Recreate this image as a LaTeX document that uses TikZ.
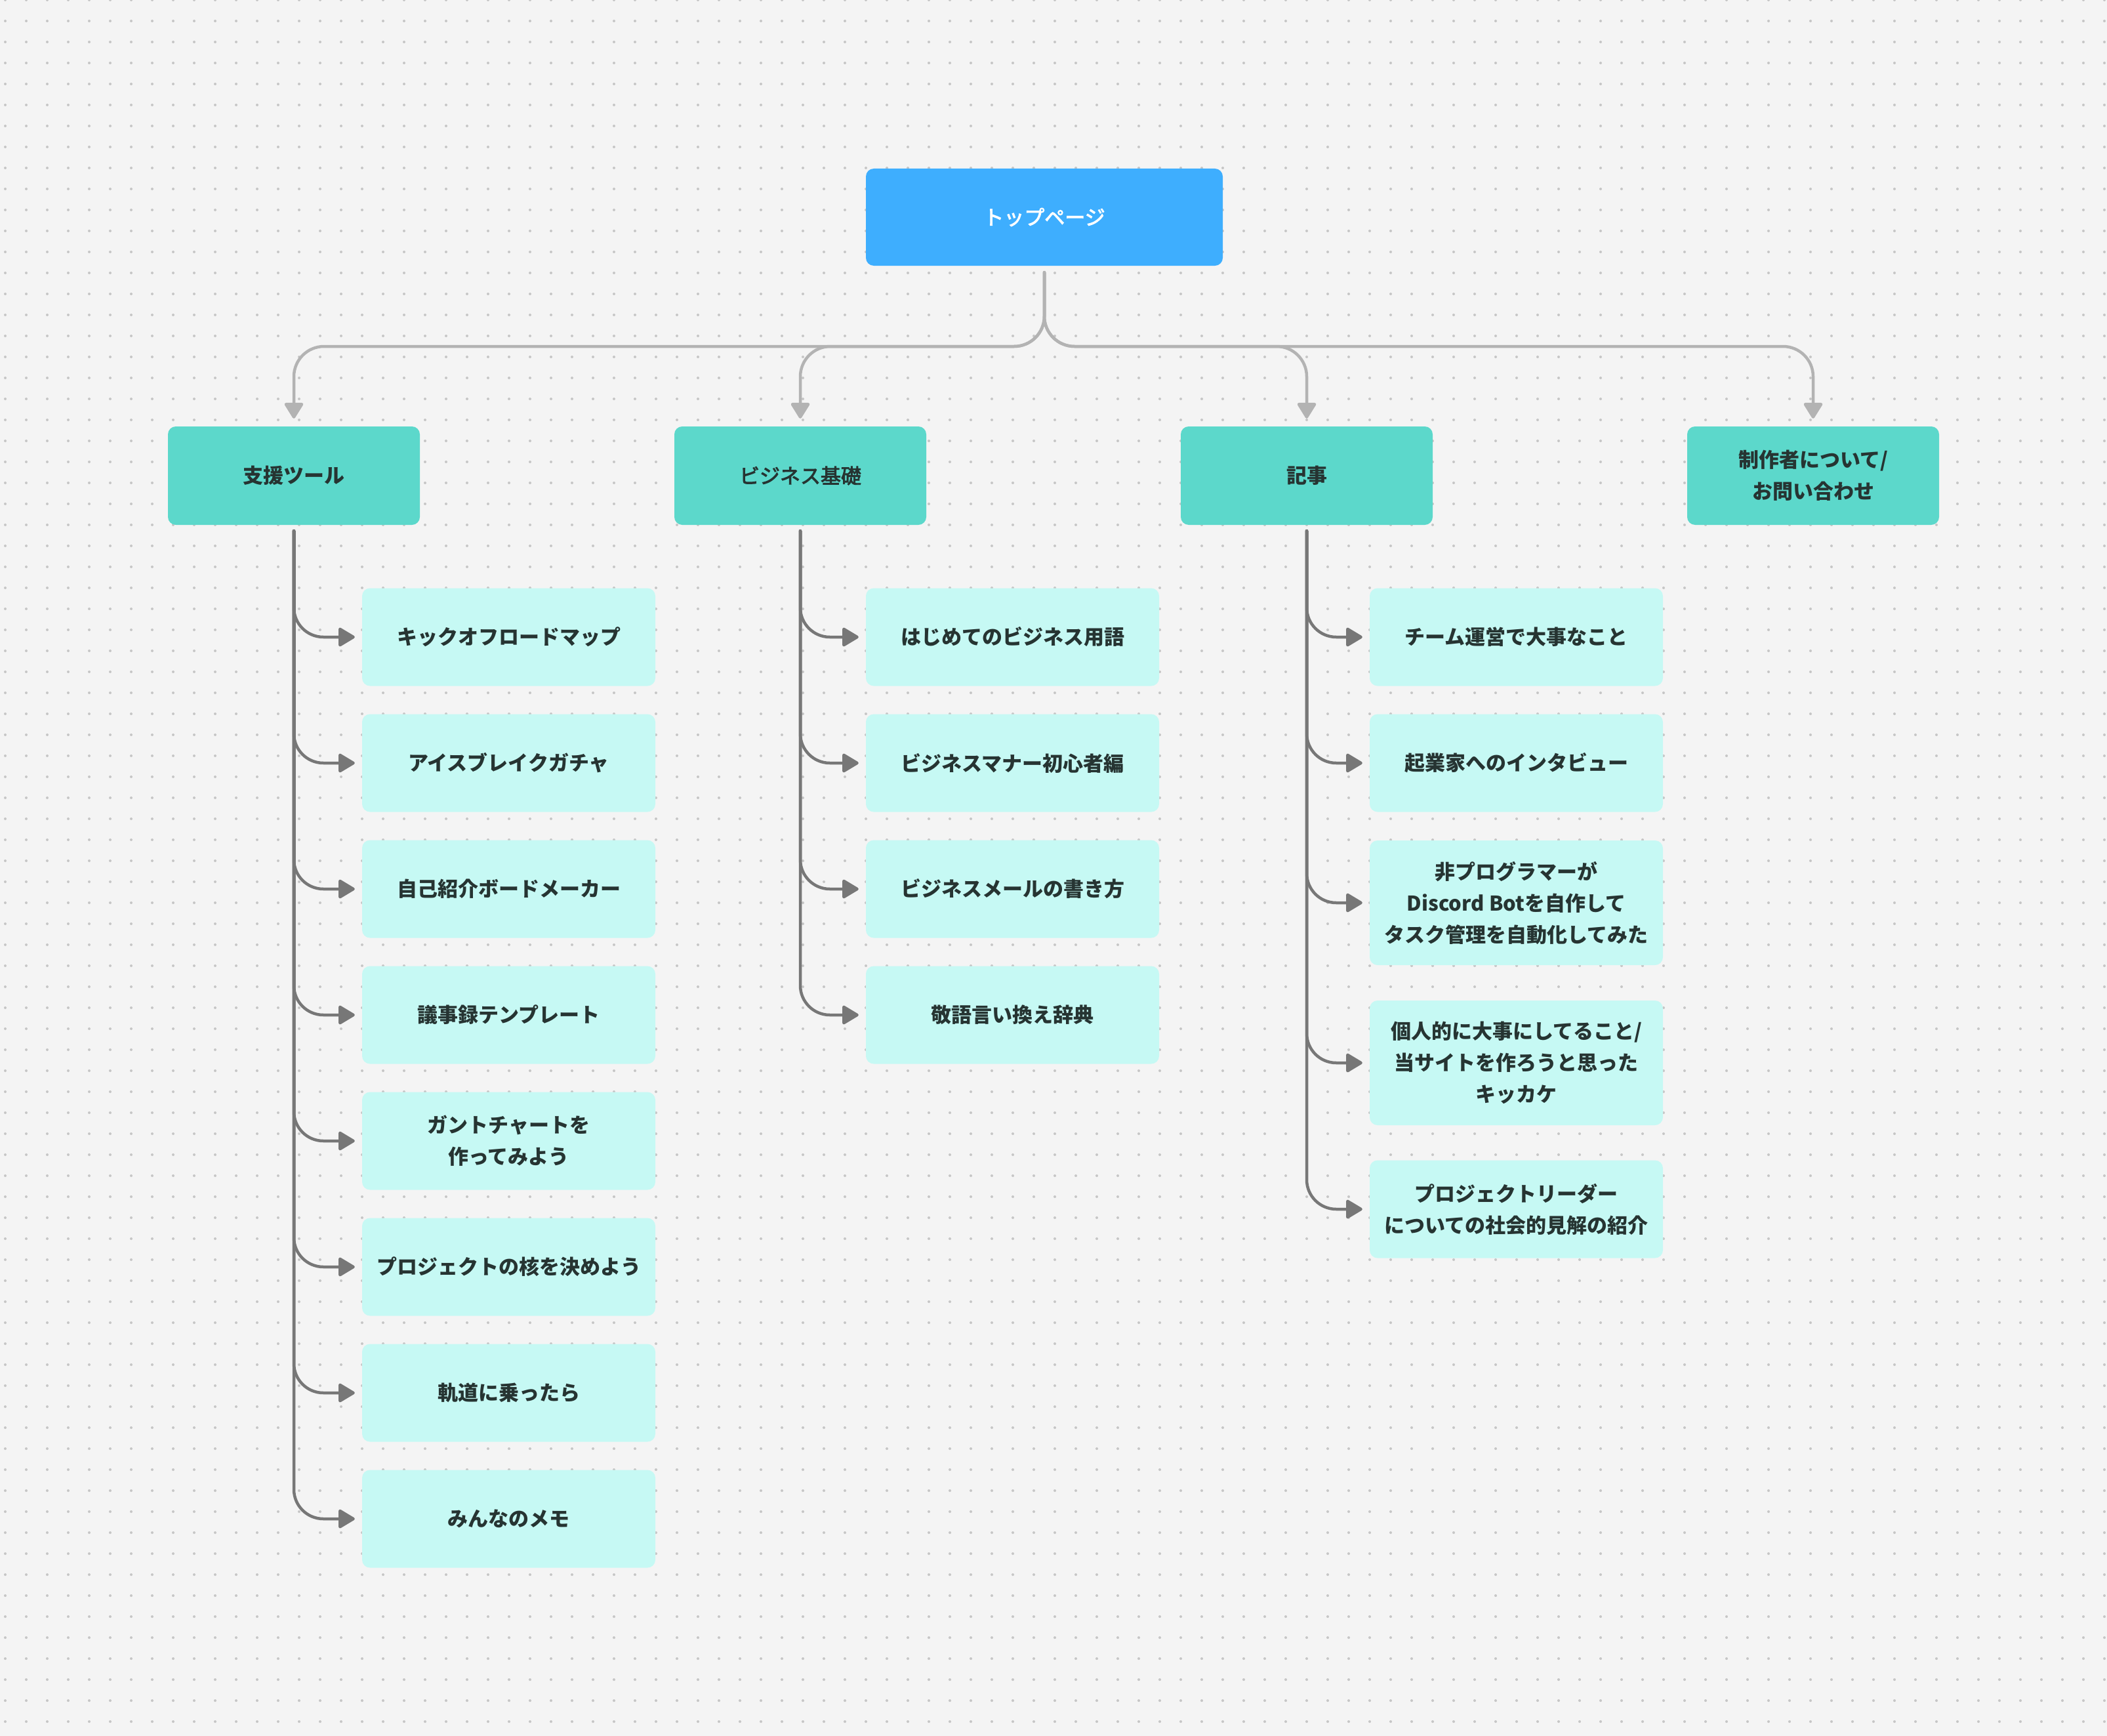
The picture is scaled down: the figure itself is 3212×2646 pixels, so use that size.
\documentclass[tikz,border=0pt]{standalone}
\usepackage{fontspec}
\newfontfamily\jp{Noto Sans CJK JP}
\newfontfamily\jpmid{Noto Sans CJK JP}[FakeBold=3]
\usetikzlibrary{arrows.meta}
\definecolor{bgc}{HTML}{F4F4F4}
\definecolor{dotc}{HTML}{C6C6C6}
\definecolor{topc}{HTML}{3EAEFE}
\definecolor{secc}{HTML}{5CD8CB}
\definecolor{leafc}{HTML}{C6F9F4}
\definecolor{lineone}{HTML}{B3B3B3}
\definecolor{linetwo}{HTML}{777777}
\definecolor{inkc}{HTML}{263432}
\begin{document}
\begin{tikzpicture}[x=1pt, y=-1pt,
	box/.style={rounded corners=12pt, inner sep=0pt, align=center, text=inkc, font=\jp\bfseries\fontsize{31}{48}\selectfont},
	topbox/.style={box, fill=topc, text=white, font=\jpmid\fontsize{31}{48}\selectfont, minimum width=544pt, minimum height=148pt},
	section/.style={box, fill=secc, minimum width=384pt, minimum height=150pt},
	leaf/.style={box, fill=leafc, minimum width=447pt, minimum height=149pt},
	linkone/.style={draw=lineone, line width=4.5pt, line cap=round, rounded corners=46pt, -{Triangle[length=26pt, width=31pt, round]}},
	linktwo/.style={draw=linetwo, line width=4.5pt, line cap=round, rounded corners=45pt, -{Triangle[length=27pt, width=31pt, round]}}]
	\fill [bgc] (0,0) rectangle (3212,2646);
	\useasboundingbox (0,0) rectangle (3212,2646);
	\foreach \j in {0,...,82}
		\fill [dotc] \foreach \i in {0,...,100} {(8+32*\i,32*\j) circle (2)};

	\node [topbox] (top) at (1592,331) {トップページ};
	\node [section] (tool) at (448,725) {支援ツール};
	\node [section, font=\jpmid\fontsize{31}{48}\selectfont] (biz) at (1220,725) {ビジネス基礎};
	\node [section] (kiji) at (1992,725) {記事};
	\node [section] (about) at (2764,725) {制作者について/\\お問い合わせ};

	\node [leaf] (tool1) at (775.5,971) {キックオフロードマップ};
	\node [leaf] (tool2) at (775.5,1163) {アイスブレイクガチャ};
	\node [leaf] (tool3) at (775.5,1355) {自己紹介ボードメーカー};
	\node [leaf] (tool4) at (775.5,1547) {議事録テンプレート};
	\node [leaf] (tool5) at (775.5,1739) {ガントチャートを\\作ってみよう};
	\node [leaf] (tool6) at (775.5,1931) {プロジェクトの核を決めよう};
	\node [leaf] (tool7) at (775.5,2123) {軌道に乗ったら};
	\node [leaf] (tool8) at (775.5,2315) {みんなのメモ};

	\node [leaf] (biz1) at (1543.5,971) {はじめてのビジネス用語};
	\node [leaf] (biz2) at (1543.5,1163) {ビジネスマナー初心者編};
	\node [leaf] (biz3) at (1543.5,1355) {ビジネスメールの書き方};
	\node [leaf] (biz4) at (1543.5,1547) {敬語言い換え辞典};

	\node [leaf] (kiji1) at (2311.5,971) {チーム運営で大事なこと};
	\node [leaf] (kiji2) at (2311.5,1163) {起業家へのインタビュー};
	\node [leaf, minimum height=190pt] (kiji3) at (2311.5,1376) {非プログラマーが\\Discord Botを自作して\\タスク管理を自動化してみた};
	\node [leaf, minimum height=190pt] (kiji4) at (2311.5,1620) {個人的に大事にしてること/\\当サイトを作ろうと思った\\キッカケ};
	\node [leaf] (kiji5) at (2311.5,1843) {プロジェクトリーダー\\についての社会的見解の紹介};

	\coordinate (hub) at (1592,528);
	\foreach \s in {tool,biz,kiji,about}
		\draw [linkone] ([yshift=-10pt]top.south) -- (hub) -| ([yshift=12pt]\s.north);
	\foreach \i in {1,...,8}
		\draw [linktwo] ([yshift=-9pt]tool.south) |- ([xshift=-11pt]tool\i.west);
	\foreach \i in {1,...,4}
		\draw [linktwo] ([yshift=-9pt]biz.south) |- ([xshift=-11pt]biz\i.west);
	\foreach \i in {1,...,5}
		\draw [linktwo] ([yshift=-9pt]kiji.south) |- ([xshift=-11pt]kiji\i.west);
\end{tikzpicture}
\end{document}
